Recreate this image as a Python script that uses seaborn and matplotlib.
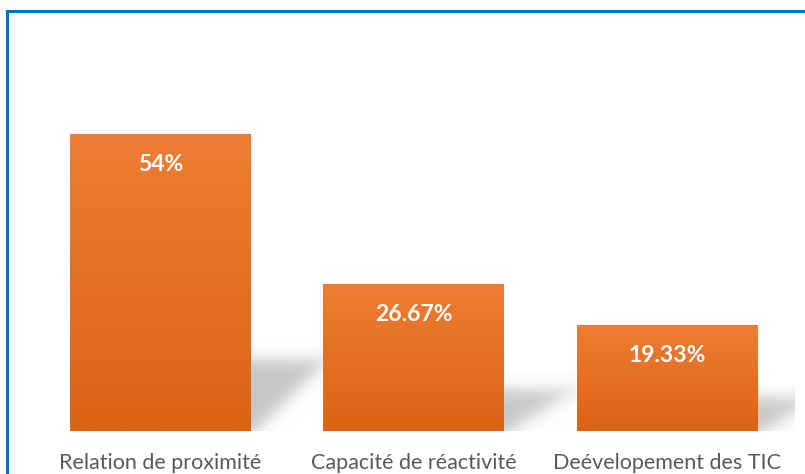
import numpy as np
import matplotlib
matplotlib.use("Agg")
import matplotlib.pyplot as plt
import seaborn as sns
from matplotlib.colors import LinearSegmentedColormap
from matplotlib.patches import Rectangle

# Data
categories = ["Relation de proximité", "Capacité de réactivité", "Deévelopement des TIC"]
values = [54, 26.67, 19.33]
value_labels = ["54%", "26.67%", "19.33%"]

sns.set_theme(style="white")
plt.rcParams["font.family"] = ["Lato", "DejaVu Sans"]

fig = plt.figure(figsize=(8.05, 4.74), dpi=100)
ax = fig.add_axes([33.75 / 805, 43 / 474, 760.25 / 805, 371 / 474])

sns.barplot(x=categories, y=values, width=0.714, color="#E46C22", ax=ax, zorder=3)
ax.set_xlim(-0.5, 2.5)
ax.set_ylim(0, 371 / 5.5)

# pixel -> data conversions (for shadow sizing)
px_x = 1 / 253.5
px_y = 1 / 5.5

grad = LinearSegmentedColormap.from_list("bar", ["#DC6214", "#ED7E33"])
grad_img = np.linspace(0, 1, 256).reshape(-1, 1)

for patch, lab in zip(ax.patches, value_labels):
    x0, w, h = patch.get_x(), patch.get_width(), patch.get_height()
    # gradient fill clipped to the bar
    im = ax.imshow(grad_img, cmap=grad, aspect="auto", origin="lower",
                   extent=[x0, x0 + w, 0, h], zorder=3)
    im.set_clip_path(patch)
    patch.set_facecolor("none")
    patch.set_edgecolor("none")

    # soft perspective shadow to the right of the bar
    h_px = h / px_y
    s_px = 0.2 * h_px + 12
    d_px = min(72, 1.5 * s_px)
    R = x0 + w
    nx, ny = 160, 160
    xs = np.linspace(0, 1.3, nx) * d_px
    ys = np.linspace(0, 1.4, ny) * s_px
    X, Y = np.meshgrid(xs, ys)
    top = 1 / (1 + np.exp(-(s_px - Y) / 4.5))
    diag = Y - X * s_px / d_px
    low = 1 / (1 + np.exp(-(diag + 4) / 6))
    a = top * low
    rgba = np.zeros((ny, nx, 4))
    rgba[..., :3] = 0.78
    rgba[..., 3] = a
    ax.imshow(rgba, origin="lower", aspect="auto", zorder=1, interpolation="bilinear",
              extent=[R, R + 1.3 * d_px * px_x, 0, 1.4 * s_px * px_y])

    ax.annotate(lab, (x0 + w / 2, h), xytext=(0, -22), textcoords="offset points",
                ha="center", va="center", color="white", fontsize=16.5,
                fontweight="bold", zorder=5)

ax.set_xlim(-0.5, 2.5)
ax.set_ylim(0, 371 / 5.5)
ax.set_yticks([])
ax.set_xlabel("")
ax.set_ylabel("")
ax.tick_params(axis="x", length=0, pad=16, labelsize=15.5, labelcolor="#595959")
sns.despine(ax=ax, left=True, bottom=True)

# blue frame around the chart (extends beyond the image edge)
fig.patches.append(Rectangle((6.5 / 805, -0.1), 1.2, (474 - 11.5) / 474 + 0.1,
                             transform=fig.transFigure, fill=False,
                             edgecolor="#0070C0", linewidth=2.2))

fig.savefig("out.png", dpi=100)
